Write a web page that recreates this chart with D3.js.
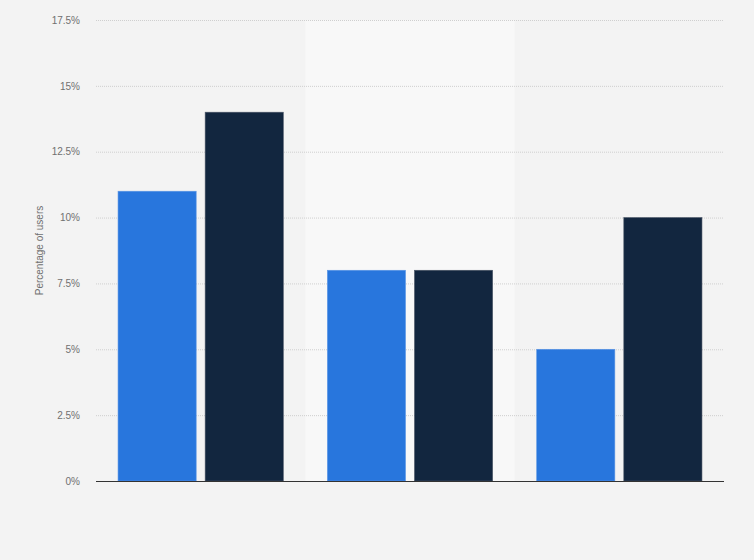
<!DOCTYPE html>
<html lang="en">
  <head>
    <meta charset="UTF-8" />
    <title>Percentage of users</title>
    <style>
        body{
            margin: 0;
            background: #f3f3f3;
        }
        .yAxis text{
            font-family: "Liberation Sans", Arial, sans-serif;
            font-size: 10px;
            fill: #707070;
        }
        .yAxis line{
            stroke: #cfcfcf;
            stroke-dasharray: 1,1;
        }
        .yAxis path{
            display: none;
        }
        .y-title{
            font-family: "Liberation Sans", Arial, sans-serif;
            font-size: 10px;
            fill: #707070;
        }
    </style>
    <script src="https://d3js.org/d3.v7.min.js"></script>
  </head>
  <body>
    <div class="wrap-data"></div>
    <script>
        // data
        const categories = ["A", "B", "C"];
        const series = ["Series 1", "Series 2"];
        const series1 = [11, 8, 5];
        const series2 = [14, 8, 10];
        const yTicks = [0, 2.5, 5, 7.5, 10, 12.5, 15, 17.5];
        const colors = ["#2876dd", "#12263f"];

        let width = 754;
        let height = 560;
        const mLeft = 96, mRight = 724, mTop = 20, mBottom = 481;

        const svg = d3.select(".wrap-data")
                    .append("svg")
                    .attr("width", width)
                    .attr("height", height);

        const scaleX = d3.scaleBand().domain(categories).range([mLeft, mRight]);
        const scaleInner = d3.scaleBand().domain(series)
                    .range([0, scaleX.bandwidth()]).paddingInner(0.103).paddingOuter(0.253);
        const scaleY = d3.scaleLinear().domain([0, 17.5]).range([mBottom, mTop]);

        // lighter band behind the middle group
        svg.append("rect")
            .attr("x", scaleX(categories[1]))
            .attr("y", mTop)
            .attr("width", scaleX.bandwidth())
            .attr("height", mBottom - mTop)
            .attr("fill", "#f8f8f8");

        const axisY = d3.axisLeft(scaleY)
                    .tickValues(yTicks)
                    .tickFormat(d => d + "%")
                    .tickSize(-(mRight - mLeft))
                    .tickPadding(16);
        const gY = svg.append("g")
                    .attr("transform", `translate(${mLeft},0)`)
                    .classed("yAxis", true)
                    .call(axisY);

        svg.append("text")
            .classed("y-title", true)
            .attr("transform", `translate(43,${(mTop + mBottom) / 2}) rotate(-90)`)
            .attr("text-anchor", "middle")
            .text("Percentage of users");

        const rows = categories.map((c, i) => ({cat: c, vals: [series1[i], series2[i]]}));
        const gGroup = svg.append("g").selectAll("g")
                    .data(rows)
                    .join("g")
                    .attr("transform", d => `translate(${scaleX(d.cat)},0)`);
        gGroup.selectAll("rect")
            .data(d => d.vals.map((v, j) => ({s: series[j], v: v, j: j})))
            .join("rect")
            .attr("x", d => scaleInner(d.s))
            .attr("y", d => scaleY(d.v))
            .attr("width", scaleInner.bandwidth())
            .attr("height", d => mBottom - scaleY(d.v))
            .attr("fill", d => colors[d.j])
            .attr("stroke", d => d.j == 0 ? "#5c95e4" : "#4a5566")
            .attr("stroke-width", 0.6);

        svg.append("line")
            .attr("x1", mLeft)
            .attr("x2", mRight)
            .attr("y1", mBottom + 0.5)
            .attr("y2", mBottom + 0.5)
            .attr("stroke", "#333")
            .attr("stroke-width", 1);
    </script>
  </body>
</html>
